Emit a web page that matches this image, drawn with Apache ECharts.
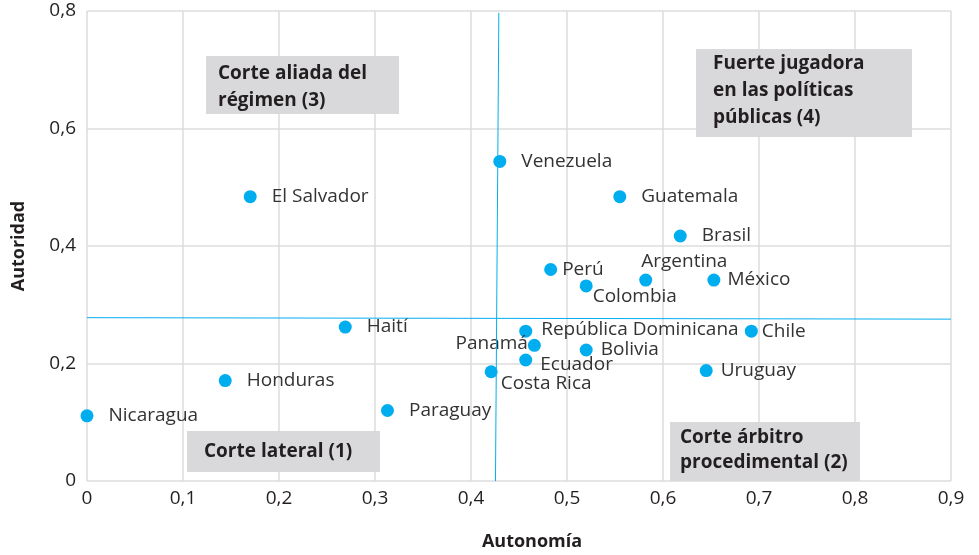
<!DOCTYPE html>
<html><head><meta charset="utf-8">
<script src="https://cdn.jsdelivr.net/npm/echarts@6/dist/echarts.min.js"></script>
<style>html,body{margin:0;padding:0;background:#fff}#c{width:979px;height:555px}</style>
</head><body><div id="c"></div>
<script>
const countries = ['Nicaragua','Honduras','El Salvador','Haití','Paraguay','Costa Rica','Ecuador','Panamá','República Dominicana','Bolivia','Uruguay','Chile','Colombia','Argentina','México','Perú','Brasil','Guatemala','Venezuela'];
const autonomia = [0.0,0.144,0.170,0.269,0.313,0.421,0.457,0.466,0.457,0.520,0.645,0.692,0.520,0.582,0.653,0.483,0.618,0.555,0.430];
const autoridad = [0.111,0.171,0.484,0.262,0.120,0.186,0.206,0.231,0.255,0.223,0.188,0.255,0.332,0.342,0.342,0.360,0.417,0.484,0.544];
const vLine = [[0.429,0.797],[0.4255,0]];
const hLine = [[0,0.278],[0.9,0.2755]];
const xTicks = {min:0,max:0.9,interval:0.1};
const yTicks = {min:0,max:0.8,interval:0.2};

const labelStyle = {
  'Perú': {distance:5},
  'México': {distance:7},
  'Chile': {distance:4},
  'República Dominicana': {distance:9, offset:[0,-2]},
  'Bolivia': {distance:8},
  'Uruguay': {distance:8},
  'Argentina': {distance:5, offset:[-16,-18]},
  'Colombia': {distance:5, offset:[-5,11]},
  'Ecuador': {distance:5, offset:[3,5]},
  'Costa Rica': {distance:5, offset:[-2,12]},
  'Panamá': {position:'left', distance:0, offset:[0,-2]}
};

const data = countries.map((n,i)=>{
  const s = labelStyle[n] || {};
  return {
    name:n, value:[autonomia[i],autoridad[i]],
    label:{show:true, position:s.position||'right', distance:(s.distance!==undefined?s.distance:15), offset:s.offset||[0,0]}
  };
});

const fmt = v => (v===0?'0':String(Math.round(v*10)/10).replace('.',','));
const FONT = '"Open Sans", sans-serif';
const boxFill = '#d9d9db';
function box(x,y,w,h,tx,ty,text,lh){
  return {type:'group', z:20, children:[
    {type:'rect', z:20, shape:{x:x,y:y,width:w,height:h}, style:{fill:boxFill}},
    {type:'text', z:21, x:tx, y:ty, style:{text:text, fill:'#231f20', font:'bold 19px '+FONT, lineHeight:lh, textVerticalAlign:'top'}}
  ]};
}

const chart = echarts.init(document.getElementById('c'));
chart.setOption({
  animation:false,
  grid:{left:87,right:28,top:11,bottom:74, containLabel:false, outerBoundsMode:'none'},
  xAxis:{type:'value', min:xTicks.min, max:xTicks.max, interval:xTicks.interval,
    name:'Autonomía', nameLocation:'middle', nameGap:52,
    nameTextStyle:{fontFamily:FONT, fontWeight:'bold', fontSize:18, color:'#231f20', padding:[0,0,0,26]},
    axisLine:{show:false}, axisTick:{show:false},
    axisLabel:{formatter:fmt, fontFamily:FONT, fontSize:19, color:'#231f20', margin:8},
    splitLine:{show:true, lineStyle:{color:'#dcdcdc', width:1.5}}},
  yAxis:{type:'value', min:yTicks.min, max:yTicks.max, interval:yTicks.interval,
    name:'Autoridad', nameLocation:'middle', nameGap:59,
    nameTextStyle:{fontFamily:FONT, fontWeight:'bold', fontSize:18, color:'#231f20'},
    axisLine:{show:false}, axisTick:{show:false},
    axisLabel:{formatter:fmt, fontFamily:FONT, fontSize:19, color:'#231f20', margin:11},
    splitLine:{show:true, lineStyle:{color:'#dcdcdc', width:1.5}}},
  series:[{
    type:'scatter', symbolSize:13, itemStyle:{color:'#00aeef', opacity:1},
    label:{formatter:'{b}', fontFamily:FONT, fontSize:19, color:'#333'},
    data:data,
    markLine:{silent:true, symbol:['none','none'], label:{show:false},
      lineStyle:{color:'#00aeef', width:1, type:'solid'},
      data:[
        [{coord:vLine[0]},{coord:vLine[1]}],
        [{coord:hLine[0]},{coord:hLine[1]}]
      ]},
    z:3
  }],
  graphic:[
    box(206,56,193,58,218,60,'Corte aliada del\nrégimen (3)',27),
    box(696,49,216,88,713,50,'Fuerte jugadora\nen las políticas\npúblicas (4)',27),
    box(187,431,193,41,204,438,'Corte lateral (1)',27),
    box(670,422,190,59,680,425,'Corte árbitro\nprocedimental (2)',25)
  ]
});
</script></body></html>
